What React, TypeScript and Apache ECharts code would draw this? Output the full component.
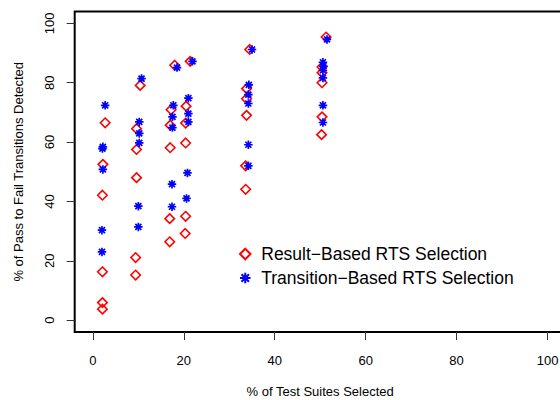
import React, { useEffect, useRef } from "react";
import * as echarts from "echarts";

// Result-Based RTS Selection (red diamonds)
const resultX = [
  2.7, 2.2, 2.1, 2.1, 2.1, 2.1,
  10.4, 9.6, 9.6, 9.6, 9.4, 9.4,
  18.0, 17.2, 17.0, 17.0, 16.9, 16.9,
  21.4, 20.5, 20.4, 20.4, 20.4, 20.3,
  34.5, 33.8, 33.8, 33.8, 33.6, 33.6,
  51.3, 50.4, 50.4, 50.4, 50.4, 50.3,
];
const resultY = [
  66.5, 52.5, 42.1, 16.3, 5.9, 3.7,
  79.1, 64.5, 57.5, 48.0, 21.1, 15.2,
  85.9, 70.9, 65.7, 58.1, 34.2, 26.4,
  87.2, 72.1, 66.4, 59.7, 35.0, 29.2,
  91.2, 78.0, 74.6, 69.0, 52.0, 44.1,
  95.4, 85.3, 83.4, 80.0, 68.5, 62.5,
];

// Transition-Based RTS Selection (blue asterisks)
const transitionX = [
  2.7, 2.2, 2.1, 2.2, 2.0, 2.0,
  10.7, 10.2, 10.2, 10.2, 10.0, 10.0,
  18.5, 17.7, 17.5, 17.5, 17.4, 17.4,
  21.9, 21.0, 21.0, 21.0, 20.8, 20.6,
  35.0, 34.3, 34.2, 34.2, 34.2, 34.2,
  51.5, 50.6, 50.7, 50.6, 50.6, 50.6, 50.6,
];
const transitionY = [
  72.4, 58.4, 57.8, 50.8, 30.3, 23.0,
  81.4, 66.8, 62.9, 59.7, 38.4, 31.4,
  85.1, 72.4, 68.5, 64.9, 45.8, 38.2,
  87.2, 74.8, 69.6, 66.8, 49.6, 41.0,
  91.2, 79.3, 76.0, 73.0, 59.1, 52.0,
  94.6, 86.9, 85.6, 84.2, 81.6, 72.4, 66.6,
];

const xTicks = [0, 20, 40, 60, 80, 100];
const yTicks = [0, 20, 40, 60, 80, 100];

const seriesNames = ["Result\u2212Based RTS Selection", "Transition\u2212Based RTS Selection"];

const DIAMOND = "path://M0,-10L10,0L0,10L-10,0Z";
const ASTERISK =
  "path://M0,-10L0,10M-10,0L10,0M-7.07,-7.07L7.07,7.07M-7.07,7.07L7.07,-7.07";

const FONT = "Liberation Sans, Arial, Helvetica, sans-serif";

export default function App() {
  const ref = useRef<HTMLDivElement>(null);
  useEffect(() => {
    document.body.style.margin = "0";
    document.body.style.overflow = "hidden";
    const chart = echarts.init(ref.current!, null, { renderer: "svg" });
    const axisCommon = {
      type: "value" as const,
      min: -4,
      max: 104,
      nameLocation: "middle" as const,
      nameTextStyle: { fontFamily: FONT, fontSize: 13, color: "#000" },
      axisLine: { show: false, onZero: false },
      splitLine: { show: false },
      axisTick: {
        show: true,
        inside: false,
        length: 8,
        lineStyle: { color: "#333", width: 1 },
      },
    };
    chart.setOption({
      animation: false,
      backgroundColor: "#fff",
      grid: {
        left: 74.7,
        top: 11.5,
        width: 491,
        height: 320.5,
        containLabel: false,
        outerBoundsMode: "none",
        show: true,
        borderColor: "#000",
        borderWidth: 2,
        backgroundColor: "transparent",
      },
      xAxis: {
        ...axisCommon,
        name: "% of Test Suites Selected",
        nameGap: 53,
        axisTick: { ...axisCommon.axisTick, customValues: xTicks },
        axisLabel: {
          customValues: xTicks,
          margin: 22,
          fontFamily: FONT,
          fontSize: 13,
          color: "#000",
        },
      },
      yAxis: {
        ...axisCommon,
        name: "% of Pass to Fail Transitions Detected",
        nameGap: 50,
        axisTick: { ...axisCommon.axisTick, customValues: yTicks },
        axisLabel: {
          customValues: yTicks,
          rotate: 90,
          margin: 19,
          fontFamily: FONT,
          fontSize: 13,
          color: "#000",
        },
      },
      legend: {
        orient: "vertical",
        left: 239,
        top: 245,
        padding: 0,
        itemGap: 6,
        itemWidth: 22,
        itemHeight: 10.5,
        symbolKeepAspect: true,
        selectedMode: false,
        textStyle: { fontFamily: FONT, fontSize: 17.5, color: "#000" },
        data: seriesNames,
      },
      series: [
        {
          name: seriesNames[0],
          type: "scatter",
          symbol: DIAMOND,
          symbolSize: 9.5,
          symbolKeepAspect: true,
          itemStyle: {
            color: "rgba(0,0,0,0)",
            borderColor: "#ff0000",
            borderWidth: 1.6,
            opacity: 1,
          },
          data: resultX.map((x, i) => [x, resultY[i]]),
        },
        {
          name: seriesNames[1],
          type: "scatter",
          symbol: ASTERISK,
          symbolSize: 8.5,
          symbolKeepAspect: true,
          itemStyle: {
            color: "#0000ff",
            borderColor: "#0000ff",
            borderWidth: 1.7,
            opacity: 1,
          },
          data: transitionX.map((x, i) => [x, transitionY[i]]),
        },
      ],
    });
    return () => chart.dispose();
  }, []);
  return (
    <div
      style={{
        position: "fixed",
        left: 0,
        top: 0,
        width: 560,
        height: 400,
        overflow: "hidden",
      }}
    >
      <div ref={ref} style={{ width: 560, height: 400 }} />
    </div>
  );
}
